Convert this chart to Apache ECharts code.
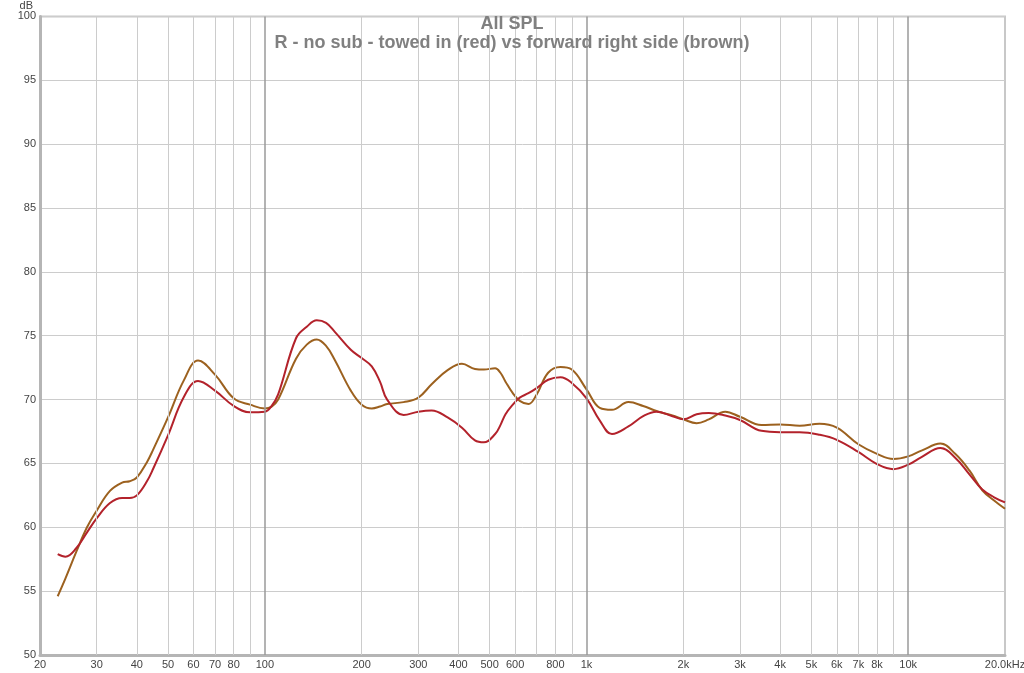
<!DOCTYPE html>
<html>
<head>
<meta charset="utf-8">
<style>
  html, body { margin: 0; padding: 0; background: #fff; }
  #chart { width: 1024px; height: 673px; }
</style>
<script src="https://cdn.jsdelivr.net/npm/echarts@6/dist/echarts.min.js"></script>
</head>
<body>
<div id="chart"></div>
<script>
// Frequency samples (Hz)
const freqs = [22.7, 24, 26, 28, 30, 33, 36, 38, 40, 43, 45, 50, 56, 62, 70, 80, 90, 100, 105, 110, 125, 135, 145, 155, 165, 185, 200, 215, 228, 240, 270, 300, 330, 370, 410, 450, 480, 520, 540, 560, 590, 620, 660, 700, 760, 830, 900, 1000, 1100, 1200, 1350, 1500, 1650, 1850, 2000, 2200, 2400, 2700, 3000, 3500, 4000, 4600, 5300, 6000, 7000, 8000, 9000, 10000, 11000, 12600, 14000, 15500, 17000, 18500, 20000];

// R - no sub - towed in (red), dB SPL
const towedIn = [57.9, 57.7, 58.4, 59.6, 60.7, 61.9, 62.3, 62.3, 62.5, 63.6, 64.6, 67.2, 70.2, 71.45, 70.7, 69.5, 69.0, 69.05, 69.5, 70.4, 74.8, 75.7, 76.2, 76.0, 75.3, 73.9, 73.25, 72.6, 71.4, 70.0, 68.8, 69.05, 69.15, 68.6, 67.8, 66.8, 66.65, 67.3, 68.0, 68.85, 69.6, 70.15, 70.5, 70.9, 71.55, 71.75, 71.3, 70.1, 68.35, 67.3, 67.9, 68.7, 69.05, 68.7, 68.45, 68.85, 68.95, 68.75, 68.4, 67.55, 67.45, 67.45, 67.25, 66.85, 65.9, 64.95, 64.55, 64.9, 65.5, 66.2, 65.45, 64.15, 62.95, 62.35, 61.95];

// forward right side (brown), dB SPL
const forwardRight = [54.6, 56.0, 58.15, 60.0, 61.3, 62.85, 63.5, 63.6, 63.9, 65.1, 66.1, 68.6, 71.5, 73.05, 71.95, 70.1, 69.6, 69.3, 69.45, 70.0, 73.2, 74.3, 74.7, 74.2, 73.1, 70.7, 69.6, 69.3, 69.45, 69.65, 69.8, 70.15, 71.2, 72.3, 72.8, 72.4, 72.35, 72.45, 72.1, 71.4, 70.5, 69.9, 69.65, 70.4, 72.1, 72.55, 72.35, 70.8, 69.35, 69.2, 69.8, 69.5, 69.1, 68.75, 68.45, 68.15, 68.45, 69.05, 68.65, 68.0, 68.05, 67.95, 68.1, 67.8, 66.5, 65.75, 65.35, 65.55, 66.0, 66.55, 65.75, 64.45, 62.9, 62.1, 61.45];

// Vertical grid lines (Hz)
const gridFreqs = [30, 40, 50, 60, 70, 80, 90, 100, 200, 300, 400, 500, 600, 700, 800, 900, 1000, 2000, 3000, 4000, 5000, 6000, 7000, 8000, 9000, 10000];
const decadeFreqs = [100, 1000, 10000];

// X tick labels
const tickFreqs = [20, 30, 40, 50, 60, 70, 80, 100, 200, 300, 400, 500, 600, 800, 1000, 2000, 3000, 4000, 5000, 6000, 7000, 8000, 10000, 20000];
const tickLabels = ['20', '30', '40', '50', '60', '70', '80', '100', '200', '300', '400', '500', '600', '800', '1k', '2k', '3k', '4k', '5k', '6k', '7k', '8k', '10k', '20.0kHz'];

const FONT = 'Liberation Sans, Arial, sans-serif';

const gridLineData = gridFreqs.map(f => ({
  xAxis: f,
  lineStyle: decadeFreqs.includes(f)
    ? { color: '#9a9a9a', width: 1.5, type: 'solid' }
    : { color: '#cccccc', width: 1, type: 'solid' },
  label: { show: false }
}));

const tickLabelData = tickFreqs.map((f, i) => ({
  xAxis: f,
  lineStyle: { color: 'rgba(0,0,0,0)', width: 0 },
  label: { show: true, position: 'start', formatter: tickLabels[i], distance: 4, color: '#444', fontSize: 11, fontFamily: FONT }
}));

const chart = echarts.init(document.getElementById('chart'));

chart.setOption({
  animation: false,
  backgroundColor: '#ffffff',
  title: {
    text: 'All SPL',
    subtext: 'R - no sub - towed in (red) vs forward right side (brown)',
    left: 'center',
    top: 10,
    itemGap: 1,
    textStyle: { fontSize: 18, fontWeight: 'bold', color: '#808080', fontFamily: FONT },
    subtextStyle: { fontSize: 18, fontWeight: 'bold', color: '#808080', fontFamily: FONT }
  },
  grid: {
    left: 40, right: 19, top: 13, bottom: 18,
    show: true,
    borderColor: '#c8c8c8',
    borderWidth: 2,
    containLabel: false
  },
  xAxis: {
    type: 'log',
    logBase: 10,
    min: 20,
    max: 20000,
    axisLine: { show: true, onZero: false, lineStyle: { color: '#b5b5b5', width: 3 } },
    axisTick: { show: false },
    axisLabel: { show: false },
    splitLine: { show: false },
    minorSplitLine: { show: false }
  },
  yAxis: {
    type: 'value',
    min: 50,
    max: 100,
    interval: 5,
    name: 'dB',
    nameLocation: 'end',
    nameGap: 2,
    nameTextStyle: { color: '#444', fontSize: 11, fontFamily: FONT, align: 'right', padding: [0, 7, 0, 0] },
    axisLine: { show: true, lineStyle: { color: '#b5b5b5', width: 3 } },
    axisTick: { show: false },
    axisLabel: { color: '#444', fontSize: 11, fontFamily: FONT, margin: 4 },
    splitLine: { show: true, lineStyle: { color: '#cccccc', width: 1 } }
  },
  series: [
    {
      name: 'grid',
      type: 'line',
      data: [],
      z: 1,
      silent: true,
      markLine: {
        silent: true,
        symbol: 'none',
        animation: false,
        data: gridLineData.concat(tickLabelData)
      }
    },
    {
      name: 'forward right side',
      type: 'line',
      smooth: 0.4,
      showSymbol: false,
      z: 3,
      lineStyle: { color: '#9c611f', width: 2 },
      itemStyle: { color: '#9c611f' },
      data: freqs.map((f, i) => [f, forwardRight[i]])
    },
    {
      name: 'towed in',
      type: 'line',
      smooth: 0.4,
      showSymbol: false,
      z: 4,
      lineStyle: { color: '#b3222b', width: 2 },
      itemStyle: { color: '#b3222b' },
      data: freqs.map((f, i) => [f, towedIn[i]])
    }
  ]
});
</script>
</body>
</html>
